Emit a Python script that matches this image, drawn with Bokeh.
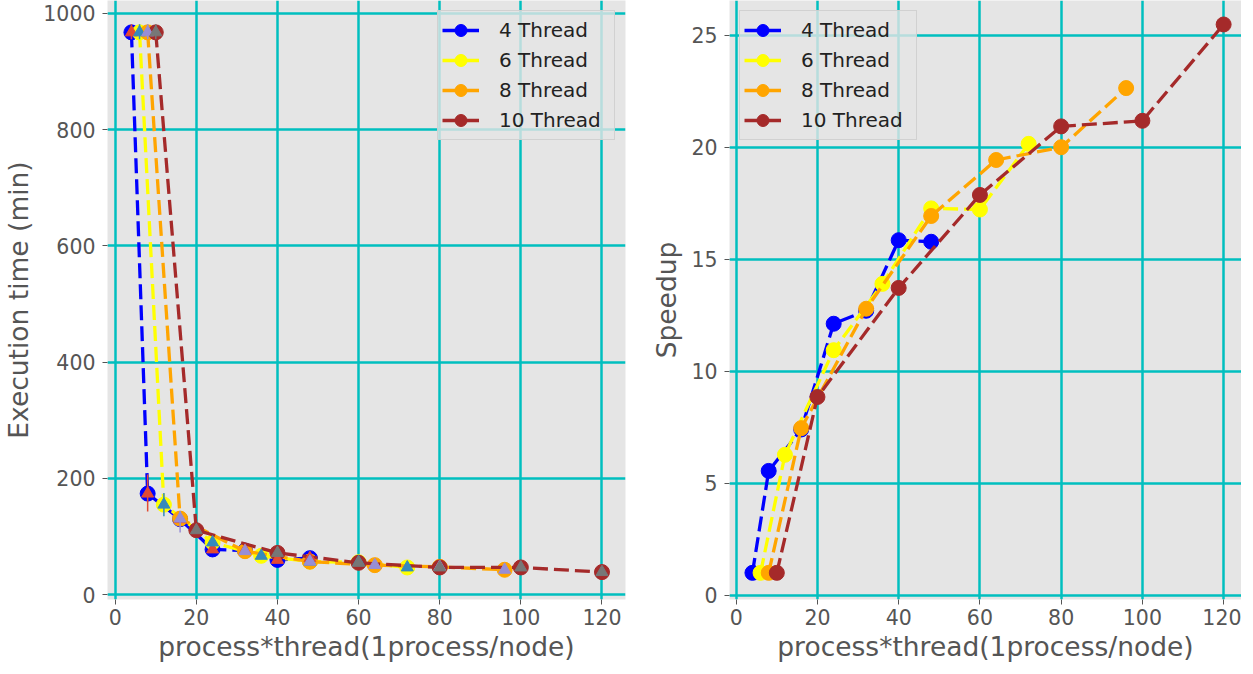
from bokeh.plotting import figure
from bokeh.layouts import row
from bokeh.models import ColumnDataSource, Legend, LegendItem, FixedTicker, Range1d
from bokeh.embed import file_html
from bokeh.resources import INLINE

labels = ["4 Thread", "6 Thread", "8 Thread", "10 Thread"]
x_ticks = [0, 20, 40, 60, 80, 100, 120]
time_ticks = [0, 200, 400, 600, 800, 1000]
speed_ticks = [0, 5, 10, 15, 20, 25]

x4 = [4, 8, 16, 24, 32, 40, 48]
x6 = [6, 12, 24, 36, 48, 60, 72]
x8 = [8, 16, 32, 48, 64, 80, 96]
x10 = [10, 20, 40, 60, 80, 100, 120]

time4 = [967, 174, 130, 78, 76, 60, 63]
time6 = [967, 155, 90, 67, 57, 56, 47]
time8 = [967, 131, 75, 57, 51, 48, 43]
time10 = [967, 111, 72, 55, 47, 47, 39]

lo4 = [955, 143, 130, 78, 76, 60, 63]
hi4 = [981, 207, 130, 78, 76, 60, 63]
lo6 = [955, 135, 90, 67, 57, 56, 47]
hi6 = [981, 175, 90, 67, 57, 56, 47]
lo8 = [955, 107, 75, 57, 51, 48, 43]
hi8 = [981, 144, 75, 57, 51, 48, 43]
lo10 = [955, 106, 72, 55, 47, 47, 39]
hi10 = [981, 116, 72, 55, 47, 47, 39]

speed4 = [1.0, 5.55, 7.4, 12.12, 12.7, 15.85, 15.78]
speed6 = [1.0, 6.27, 10.94, 13.9, 17.27, 17.22, 20.15]
speed8 = [1.0, 7.46, 12.79, 16.93, 19.43, 20.0, 22.64]
speed10 = [1.0, 8.85, 13.72, 17.87, 20.93, 21.18, 25.48]

line_colors = ["#0000FF", "#FFFF00", "#FFA500", "#A52A2A"]
tri_colors = ["#E24A33", "#348ABD", "#988ED5", "#777777"]

xs = [x4, x6, x8, x10]
times = [time4, time6, time8, time10]
los = [lo4, lo6, lo8, lo10]
his = [hi4, hi6, hi8, hi10]
speeds = [speed4, speed6, speed8, speed10]

FONT = "DejaVu Sans"
GRAY = "#555555"


def style(p, yticks, ylabel):
    p.background_fill_color = "#E5E5E5"
    p.border_fill_color = "white"
    p.outline_line_color = None
    for ax, ticks in ((p.xaxis[0], x_ticks), (p.yaxis[0], yticks)):
        ax.ticker = FixedTicker(ticks=ticks)
        ax.axis_line_color = None
        ax.major_tick_line_color = GRAY
        ax.major_tick_line_width = 1
        ax.major_tick_out = 5
        ax.major_tick_in = 0
        ax.minor_tick_line_color = None
        ax.major_label_text_font = FONT
        ax.major_label_text_font_size = "20.5px"
        ax.major_label_text_color = GRAY
        ax.axis_label_text_font = FONT
        ax.axis_label_text_font_size = "26.5px"
        ax.axis_label_text_font_style = "normal"
        ax.axis_label_text_color = GRAY
    p.xaxis[0].major_label_standoff = 4
    p.xaxis[0].axis_label_standoff = 3
    p.yaxis[0].major_label_standoff = 7
    p.yaxis[0].axis_label_standoff = 6
    p.xaxis[0].axis_label = "process*thread(1process/node)"
    p.yaxis[0].axis_label = ylabel
    p.xgrid[0].ticker = FixedTicker(ticks=x_ticks)
    p.ygrid[0].ticker = FixedTicker(ticks=yticks)
    p.grid.grid_line_color = "#00BFBF"
    p.grid.grid_line_width = 2.5


def add_legend(p, xdata, ydata, loc):
    items = []
    for i in range(4):
        src = ColumnDataSource(dict(x=xdata[i], y=ydata[i]))
        lr = p.line("x", "y", source=src, line_color=line_colors[i], line_width=3.3)
        cr = p.scatter("x", "y", source=src, marker="circle", size=15,
                       fill_color=line_colors[i], line_color=line_colors[i])
        lr.visible = False
        cr.visible = False
        items.append(LegendItem(label=labels[i], renderers=[lr, cr]))
    leg = Legend(items=items, location=loc, margin=10, padding=4, spacing=-1,
                 glyph_width=37, glyph_height=30, label_height=30, label_width=111,
                 label_standoff=20, label_text_font=FONT, label_text_font_size="20px",
                 label_text_color="#222222", background_fill_color="#E5E5E5",
                 background_fill_alpha=0.8, border_line_color="#CCCCCC",
                 border_line_alpha=0.8, border_line_width=1,
                 inactive_fill_alpha=0)
    p.add_layout(leg)


FRAME_H = 599
left = figure(frame_width=518, frame_height=FRAME_H, x_range=Range1d(-1.9, 125.8),
              y_range=Range1d(-8.1, 1021.8), output_backend="svg", toolbar_location=None,
              min_border_left=103, min_border_right=9, min_border_top=0, min_border_bottom=58)
style(left, time_ticks, "Execution time (min)")
for i in range(4):
    src = ColumnDataSource(dict(x=xs[i], y=times[i]))
    left.line("x", "y", source=src, line_color=line_colors[i], line_width=3.3, line_dash="15 6")
    left.scatter("x", "y", source=src, marker="circle", size=15,
                 fill_color=line_colors[i], line_color=line_colors[i])
for i in range(4):
    src = ColumnDataSource(dict(x=xs[i], y=times[i], lo=los[i], hi=his[i]))
    left.segment("x", "lo", "x", "hi", source=src, line_color=tri_colors[i], line_width=1.5)
    left.scatter("x", "y", source=src, marker="triangle", size=12,
                 fill_color=tri_colors[i], line_color=tri_colors[i])
add_legend(left, xs, times, "top_right")

right = figure(frame_width=512, frame_height=FRAME_H, x_range=Range1d(-1.65, 124.4),
               y_range=Range1d(-0.19, 26.55), output_backend="svg", toolbar_location=None,
               min_border_left=95, min_border_right=0, min_border_top=0, min_border_bottom=58)
style(right, speed_ticks, "Speedup")
for i in range(4):
    src = ColumnDataSource(dict(x=xs[i], y=speeds[i]))
    right.line("x", "y", source=src, line_color=line_colors[i], line_width=3.3, line_dash="15 6")
    right.scatter("x", "y", source=src, marker="circle", size=15,
                  fill_color=line_colors[i], line_color=line_colors[i])
add_legend(right, xs, speeds, "top_left")

layout = row(left, right)
open("out.html", "w").write(file_html(layout, INLINE))
